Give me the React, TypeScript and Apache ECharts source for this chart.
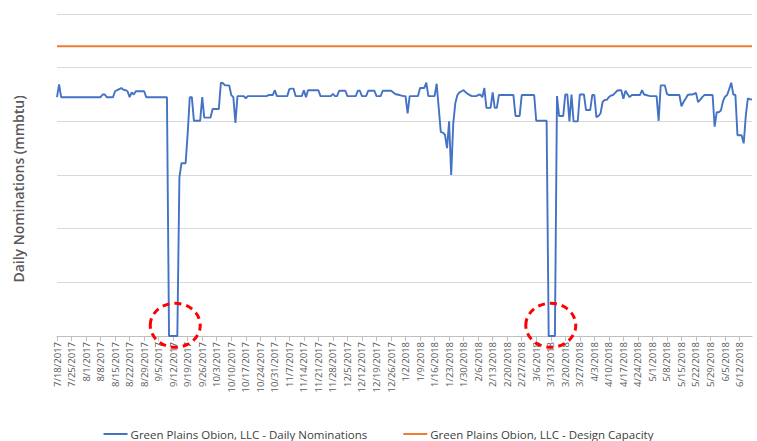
import React, { useEffect, useRef } from "react";
import * as echarts from "echarts";

// ---- data ----
const START_DATE = { year: 2017, month: 7, day: 18 };
const DAY_COUNT = 336;

const categories: string[] = (() => {
  const out: string[] = [];
  const d = new Date(Date.UTC(START_DATE.year, START_DATE.month - 1, START_DATE.day));
  for (let i = 0; i < DAY_COUNT; i++) {
    out.push(`${d.getUTCMonth() + 1}/${d.getUTCDate()}/${d.getUTCFullYear()}`);
    d.setUTCDate(d.getUTCDate() + 1);
  }
  return out;
})();

const dailyNominations: number[] = [
  4450, 4690, 4450, 4450, 4450, 4450, 4450, 4450, 4450, 4450,
  4450, 4450, 4450, 4450, 4450, 4450, 4450, 4450, 4450, 4450,
  4450, 4450, 4500, 4500, 4450, 4450, 4450, 4450, 4560, 4580,
  4600, 4620, 4590, 4580, 4560, 4450, 4540, 4500, 4560, 4560,
  4560, 4560, 4560, 4450, 4450, 4450, 4450, 4450, 4450, 4450,
  4450, 4450, 4450, 4450, 0, 0, 0, 0, 0, 2950,
  3220, 3220, 3220, 3780, 4450, 4450, 4010, 4010, 4010, 4010,
  4450, 4070, 4070, 4070, 4070, 4230, 4230, 4230, 4230, 4720,
  4710, 4670, 4670, 4670, 4490, 4450, 3970, 4470, 4470, 4470,
  4470, 4430, 4470, 4470, 4470, 4470, 4470, 4470, 4470, 4470,
  4470, 4470, 4490, 4490, 4490, 4580, 4470, 4470, 4470, 4470,
  4470, 4470, 4600, 4610, 4610, 4470, 4470, 4470, 4470, 4580,
  4450, 4580, 4580, 4580, 4580, 4580, 4580, 4470, 4470, 4470,
  4470, 4470, 4470, 4510, 4470, 4470, 4570, 4570, 4570, 4570,
  4470, 4470, 4470, 4470, 4470, 4570, 4570, 4470, 4470, 4470,
  4570, 4570, 4570, 4570, 4470, 4470, 4470, 4570, 4570, 4570,
  4570, 4570, 4540, 4510, 4500, 4490, 4480, 4470, 4470, 4150,
  4470, 4470, 4470, 4470, 4470, 4620, 4620, 4620, 4720, 4470,
  4470, 4470, 4470, 4700, 4250, 3800, 3790, 3750, 3500, 4000,
  3000, 3960, 4340, 4490, 4540, 4560, 4580, 4540, 4510, 4490,
  4470, 4470, 4470, 4490, 4500, 4450, 4620, 4250, 4250, 4250,
  4540, 4250, 4250, 4490, 4490, 4490, 4490, 4490, 4490, 4490,
  4490, 4100, 4100, 4100, 4490, 4490, 4490, 4490, 4490, 4490,
  4490, 4010, 4010, 4010, 4010, 4010, 4010, 0, 0, 0,
  0, 4470, 4100, 4100, 4100, 4500, 4500, 4000, 4500, 4000,
  4000, 4000, 4500, 4500, 4500, 4210, 4210, 4210, 4490, 4490,
  4080, 4100, 4150, 4360, 4400, 4400, 4450, 4480, 4490, 4530,
  4570, 4580, 4580, 4420, 4570, 4510, 4450, 4490, 4490, 4490,
  4490, 4490, 4580, 4500, 4490, 4480, 4470, 4470, 4470, 4470,
  4010, 4670, 4670, 4670, 4510, 4490, 4490, 4490, 4490, 4490,
  4490, 4280, 4360, 4420, 4490, 4500, 4500, 4510, 4530, 4360,
  4400, 4450, 4490, 4490, 4490, 4490, 4490, 3900, 4170, 4170,
  4200, 4370, 4460, 4490, 4600, 4720, 4500, 4490, 3740, 3740,
  3740, 3590, 4100, 4430, 4410, 4410,
];

const DESIGN_CAPACITY = 5400;
const designCapacity: number[] = categories.map(() => DESIGN_CAPACITY);

const SERIES_NAMES = [
  "Green Plains Obion, LLC - Daily Nominations",
  "Green Plains Obion, LLC - Design Capacity",
];
const Y_TITLE = "Daily Nominations (mmbtu)";
const Y_MIN = 0;
const Y_MAX = 6000;
const Y_INTERVAL = 1000;

// dates highlighted with dashed red circles (near zero)
const annotationDates = ["9/13/2017", "3/13/2018"];
const ANNOTATION_VALUE = 200;

export default function App() {
  const ref = useRef<HTMLDivElement>(null);

  useEffect(() => {
    if (!ref.current) return;
    const chart = echarts.init(ref.current, undefined, { renderer: "svg" });
    const font = '"Open Sans", "Liberation Sans", sans-serif';
    chart.setOption({
      animation: false,
      backgroundColor: "#ffffff",
      grid: { left: 57, right: 5, top: 14, bottom: 105, containLabel: false },
      legend: {
        top: 423,
        left: "center",
        icon: "rect",
        itemWidth: 24,
        itemHeight: 2,
        itemGap: 36,
        textStyle: { fontSize: 11.5, color: "#404040", fontFamily: font, padding: [0, 0, 0, -2] },
        data: SERIES_NAMES,
      },
      xAxis: {
        type: "category",
        data: categories,
        boundaryGap: false,
        axisLine: { lineStyle: { color: "#bfbfbf", width: 1 } },
        axisTick: { interval: 6, length: 5, lineStyle: { color: "#bfbfbf" } },
        axisLabel: {
          interval: 6,
          rotate: 90,
          margin: 6,
          fontSize: 9.5,
          color: "#595959",
          fontFamily: font,
        },
        splitLine: { show: false },
      },
      yAxis: {
        type: "value",
        min: Y_MIN,
        max: Y_MAX,
        interval: Y_INTERVAL,
        axisLabel: { show: false },
        axisLine: { show: false },
        axisTick: { show: false },
        splitLine: { lineStyle: { color: "#d9d9d9", width: 1 } },
      },
      series: [
        {
          name: SERIES_NAMES[0],
          type: "line",
          data: dailyNominations,
          symbol: "none",
          lineStyle: { color: "#4472C4", width: 1.9 },
          itemStyle: { color: "#4472C4" },
          z: 3,
        },
        {
          name: SERIES_NAMES[1],
          type: "line",
          data: designCapacity,
          symbol: "none",
          lineStyle: { color: "#ED7D31", width: 2 },
          itemStyle: { color: "#ED7D31" },
          z: 2,
        },
      ],
    });

    const circles = annotationDates.map((d) => {
      const idx = categories.indexOf(d);
      const p = chart.convertToPixel({ gridIndex: 0 }, [idx, ANNOTATION_VALUE]) as number[];
      return {
        type: "ellipse",
        shape: { cx: p[0], cy: p[1], rx: 25, ry: 22 },
        style: { fill: "none", stroke: "#FF0000", lineWidth: 3, lineDash: [7, 5] },
        z: 100,
      };
    });

    chart.setOption({
      graphic: [
        {
          type: "text",
          x: 18,
          y: 189,
          rotation: Math.PI / 2,
          style: {
            text: Y_TITLE,
            fontSize: 14,
            fontWeight: 600,
            fontFamily: font,
            fill: "#595959",
            align: "center",
            verticalAlign: "middle",
          },
        },
        ...circles,
      ],
    });

    return () => chart.dispose();
  }, []);

  return (
    <div
      ref={ref}
      style={{ position: "absolute", left: 0, top: 0, width: 757, height: 441 }}
    />
  );
}
